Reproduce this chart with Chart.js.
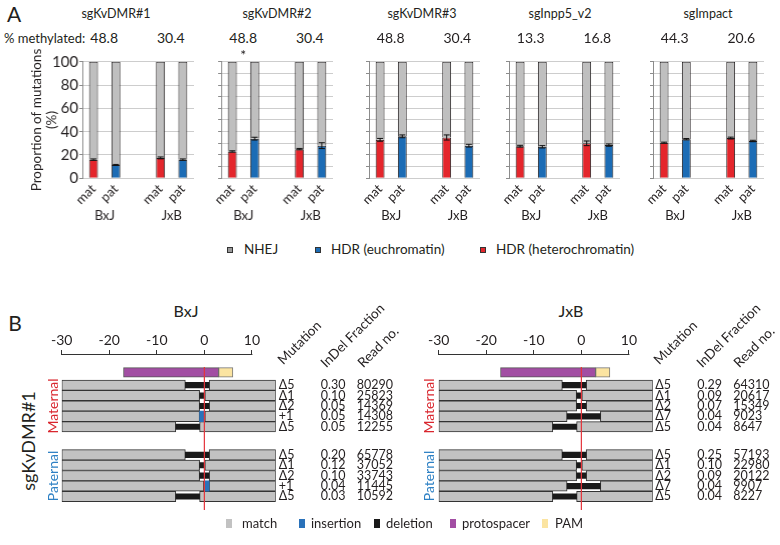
<!DOCTYPE html>
<html>
<head>
<meta charset="utf-8">
<script src="https://cdn.jsdelivr.net/npm/chart.js@4.4.0/dist/chart.umd.min.js"></script>
<style>
  body { margin: 0; background: #fff; }
  #page { position: relative; width: 780px; height: 545px; overflow: hidden; color: #231f20;
          font-family: Lato, 'Open Sans', sans-serif; }
  #page canvas { position: absolute; }
  .t { position: absolute; white-space: nowrap; line-height: 1; }
  .sq { position: absolute; box-sizing: border-box; }
</style>
</head>
<body>
<div id="page"></div>
<script>
// ---- Panel A data: HDR share (%) for mat, pat (BxJ), gap, mat, pat (JxB)
const guides = ['sgKvDMR#1', 'sgKvDMR#2', 'sgKvDMR#3', 'sgInpp5_v2', 'sgImpact'];
const methylBxJ = ['48.8', '48.8', '48.8', '13.3', '44.3'];
const methylJxB = ['30.4', '30.4', '30.4', '16.8', '20.6'];
const alleles = ['mat', 'pat', '', 'mat', 'pat'];
const crosses = ['BxJ', 'JxB'];
const hdr = [
  [16, 11.5, null, 17.5, 16],
  [23, 34, null, 25, 28],
  [33, 36, null, 35, 28],
  [27.5, 27, null, 30, 28.5],
  [30.5, 33.5, null, 34.5, 32]
];
const hdrErr = [
  [0.6, 0.4, null, 0.8, 0.6],
  [0.6, 1.2, null, 0.6, 2.5],
  [1.2, 1.2, null, 2.2, 1.2],
  [0.8, 1.0, null, 2.0, 1.0],
  [0.5, 0.6, null, 0.8, 0.6]
];

// ---- Panel B data: sgKvDMR#1 amplicon reads (position relative to cut site)
const readSpan = [-30, 15];
const protospacer = [-17, 3];
const pam = [3, 6];
const cutSite = 0;
const bxjMatMut = ['Δ5', 'Δ1', 'Δ2', '+1', 'Δ5'];
const bxjMatFrac = ['0.30', '0.10', '0.05', '0.05', '0.05'];
const bxjMatReads = ['80290', '25823', '14369', '14308', '12255'];
const bxjMatEdit = [[-4, 1], [-1, 0], [-1, 1], [-1, 0], [-6, -1]];
const bxjPatMut = ['Δ5', 'Δ1', 'Δ2', '+1', 'Δ5'];
const bxjPatFrac = ['0.20', '0.12', '0.10', '0.04', '0.03'];
const bxjPatReads = ['65778', '37052', '33743', '11445', '10592'];
const bxjPatEdit = [[-4, 1], [-1, 0], [-1, 1], [0, 1], [-6, -1]];
const jxbMatMut = ['Δ5', 'Δ1', 'Δ2', 'Δ7', 'Δ5'];
const jxbMatFrac = ['0.29', '0.09', '0.07', '0.04', '0.04'];
const jxbMatReads = ['64310', '20617', '15349', '9023', '8647'];
const jxbMatEdit = [[-4, 1], [-1, 0], [-1, 1], [-3, 4], [-6, -1]];
const jxbPatMut = ['Δ5', 'Δ1', 'Δ2', 'Δ7', 'Δ5'];
const jxbPatFrac = ['0.25', '0.10', '0.09', '0.04', '0.04'];
const jxbPatReads = ['57193', '22980', '20122', '9907', '8227'];
const jxbPatEdit = [[-4, 1], [-1, 0], [-1, 1], [-3, 4], [-6, -1]];

const RED = '#e4262c', BLUE = '#1c6cb5', GREY = '#bfbfbf', INK = '#231f20';
const PURPLE = '#a24ea3', YELLOW = '#fbe4a1';
Chart.defaults.font.family = "Lato, 'Open Sans', sans-serif";
Chart.defaults.color = INK;

const page = document.getElementById('page');
function addText(txt, x, y, size, css) {
  const d = document.createElement('div');
  d.className = 't';
  d.textContent = txt;
  d.style.left = x + 'px';
  d.style.top = y + 'px';
  d.style.fontSize = size + 'px';
  Object.assign(d.style, css || {});
  page.appendChild(d);
  return d;
}
const centered = { transform: 'translate(-50%, -50%)' };
const midLeft = { transform: 'translate(0, -50%)' };
function addCanvas(left, top, w, h) {
  const c = document.createElement('canvas');
  c.width = w; c.height = h;
  c.style.left = left + 'px'; c.style.top = top + 'px';
  c.style.width = w + 'px'; c.style.height = h + 'px';
  page.appendChild(c);
  return c;
}

// error bars on the HDR segment
const errorBars = {
  id: 'errorBars',
  afterDatasetsDraw(chart, args, opts) {
    const meta = chart.getDatasetMeta(0);
    const ys = chart.scales.y;
    const vals = chart.data.datasets[0].data;
    const ctx = chart.ctx;
    ctx.save();
    ctx.strokeStyle = '#111';
    ctx.lineWidth = 1;
    meta.data.forEach((bar, j) => {
      if (vals[j] == null) return;
      const top = ys.getPixelForValue(vals[j] + opts.errors[j]);
      const bot = ys.getPixelForValue(vals[j] - opts.errors[j]);
      ctx.beginPath();
      ctx.moveTo(bar.x, top); ctx.lineTo(bar.x, bot);
      ctx.moveTo(bar.x - 3, top); ctx.lineTo(bar.x + 3, top);
      ctx.moveTo(bar.x - 3, bot); ctx.lineTo(bar.x + 3, bot);
      ctx.stroke();
    });
    ctx.restore();
  }
};

// ---- Panel A
const axisX = [82, 221, 368.5, 508.5, 652.5];
const plotW = 111.5, aTop = 48, aH = 190;
const titleX = [116, 277, 422, 560, 708];

addText('A', 14, 13, 21, centered);
addText('% methylated:', 4, 38, 13, midLeft);

guides.forEach((g, i) => {
  const first = i === 0;
  const yW = first ? 62 : 4, padL = first ? 0 : 14;
  const left = axisX[i] - yW - padL;
  const canvas = addCanvas(left, aTop, yW + padL + plotW + 8, aH);
  const chart = new Chart(canvas, {
    type: 'bar',
    data: {
      labels: alleles,
      datasets: [
        { label: 'HDR', data: hdr[i], backgroundColor: alleles.map(a => a === 'mat' ? RED : BLUE),
          borderColor: INK, borderWidth: 1, barPercentage: 0.4, categoryPercentage: 1 },
        { label: 'NHEJ', data: hdr[i].map(v => v == null ? null : 100 - v), backgroundColor: GREY,
          borderColor: INK, borderWidth: 1, barPercentage: 0.4, categoryPercentage: 1 }
      ]
    },
    options: {
      animation: false, responsive: false, events: [],
      layout: { padding: { top: 13.7, bottom: 7.7, left: padL, right: 8 } },
      plugins: { legend: { display: false }, tooltip: { enabled: false }, errorBars: { errors: hdrErr[i] } },
      scales: {
        x: {
          stacked: true, grid: { display: false, drawTicks: false }, border: { display: false },
          ticks: { minRotation: 45, maxRotation: 45, padding: 3, font: { size: 13 }, autoSkip: false },
          afterFit: s => { s.height = 26; }
        },
        x2: {
          type: 'linear', position: 'bottom', weight: 1, min: -0.5, max: 4.5, offset: false,
          grid: { display: false, drawTicks: false }, border: { display: false },
          afterBuildTicks: s => { s.ticks = [{ value: 0.5 }, { value: 3.5 }]; },
          ticks: { callback: v => v < 2 ? crosses[0] : crosses[1], padding: 4, font: { size: 13 } },
          afterFit: s => { s.height = 26; }
        },
        y: {
          stacked: true, min: 0, max: 100,
          ticks: { stepSize: 10, display: first, padding: 1, font: { size: 15 },
                   callback: v => v % 20 === 0 ? v : '' },
          grid: { color: '#cdcdcd', tickColor: '#8c8c8c', tickLength: 3 },
          border: { color: '#8c8c8c' },
          title: { display: first, text: ['Proportion of mutations', '(%)'],
                   font: { size: 13.5, lineHeight: 1.05 }, padding: { top: 10, bottom: 0 } },
          afterFit: s => { s.width = yW; }
        }
      }
    },
    plugins: [errorBars]
  });
  addText(g, titleX[i], 14, 12.5, centered);
  const x2 = chart.scales.x2;
  addText(methylBxJ[i], left + x2.getPixelForValue(0.5), 38, 14, centered);
  addText(methylJxB[i], left + x2.getPixelForValue(3.5), 38, 14, centered);
  if (i === 1) addText('*', left + x2.getPixelForValue(0.5), 55, 14, centered);
});

// legends: square (w x h) at sx, label at tx
function legendItem(sx, tx, y, w, h, color, border, label, size) {
  const s = document.createElement('div');
  s.className = 'sq';
  s.style.left = sx + 'px'; s.style.top = (y - h / 2) + 'px';
  s.style.width = w + 'px'; s.style.height = h + 'px';
  s.style.background = color;
  if (border) s.style.border = '1px solid ' + border;
  page.appendChild(s);
  addText(label, tx, y, size, midLeft);
}
legendItem(227, 244, 250, 6, 6, '#9a9a9a', '#333', 'NHEJ', 13.5);
legendItem(315, 331, 250, 6, 6, BLUE, '#333', 'HDR (euchromatin)', 13.5);
legendItem(480, 496, 250, 6, 6, RED, '#333', 'HDR (heterochromatin)', 13.5);

// ---- Panel B
const matRows = [0, 1, 2, 3, 4];
const patRows = [6.7, 7.7, 8.7, 9.7, 10.7];
const protoRow = -1.22;
const rowPx = 10.4;

const axisLine = {
  id: 'axisLine',
  afterDraw(chart, args, opts) {
    const xs = chart.scales.x, ctx = chart.ctx, y = chart.chartArea.top - 0.5;
    ctx.save();
    ctx.strokeStyle = '#333';
    ctx.lineWidth = 1;
    ctx.beginPath();
    ctx.moveTo(xs.getPixelForValue(opts.from) - 0.5, y);
    ctx.lineTo(xs.getPixelForValue(opts.to) + 0.5, y);
    ctx.stroke();
    ctx.restore();
  }
};

function readPanel(cross, canvasLeft, groups, titleCx) {
  const top = 330, h = 185, w = 245;
  const canvas = addCanvas(canvasLeft, top, w, h);
  const match = [], del = [], ins = [];
  groups.forEach(gr => {
    gr.rows.forEach((r, k) => {
      const [a, b] = gr.edit[k];
      match.push({ x: [readSpan[0], a], y: r }, { x: [b, readSpan[1]], y: r });
      if (gr.mut[k][0] === '+') ins.push({ x: [a, b], y: r });
      else del.push({ x: [a, b], y: r });
    });
  });
  const chart = new Chart(canvas, {
    type: 'bar',
    data: {
      datasets: [
        { type: 'line', label: 'cut', data: [{ x: cutSite, y: -1.75 }, { x: cutSite, y: 12 }],
          borderColor: '#e5333b', borderWidth: 1.2, pointRadius: 0, order: 0 },
        { label: 'deletion', data: del, backgroundColor: '#1a1a1a', barThickness: 5.5, grouped: false, order: 1 },
        { label: 'insertion', data: ins, backgroundColor: '#2a72ba', barThickness: rowPx, grouped: false, order: 2 },
        { label: 'PAM', data: [{ x: pam, y: protoRow }], backgroundColor: YELLOW, borderColor: '#777',
          borderWidth: 1, borderSkipped: false, barThickness: 9.6, grouped: false, order: 3 },
        { label: 'protospacer', data: [{ x: protospacer, y: protoRow }], backgroundColor: PURPLE, borderColor: '#555',
          borderWidth: 1, borderSkipped: false, barThickness: 9.6, grouped: false, order: 4 },
        { label: 'match', data: match, backgroundColor: '#c2c2c2', borderColor: '#333',
          borderWidth: 1, borderSkipped: false, barThickness: rowPx, grouped: false, order: 5 }
      ]
    },
    options: {
      indexAxis: 'y', animation: false, responsive: false, events: [],
      layout: { padding: { top: 1, bottom: 5, left: 21.7, right: 9.3 } },
      plugins: { legend: { display: false }, tooltip: { enabled: false }, axisLine: { from: -30, to: 10 } },
      scales: {
        x: {
          type: 'linear', position: 'top', min: readSpan[0], max: readSpan[1], offset: false,
          ticks: { stepSize: 10, includeBounds: false, padding: 1, font: { size: 14 } },
          grid: { drawOnChartArea: false, tickLength: 5, color: '#333' },
          border: { display: false },
          afterFit: s => { s.height = 24; }
        },
        y: { type: 'linear', reverse: true, min: -2.9, max: 12, offset: false, display: false }
      }
    },
    plugins: [axisLine]
  });
  const ca = chart.chartArea, ys = chart.scales.y;
  const right = canvasLeft + ca.right, leftEdge = canvasLeft + ca.left;
  addText(cross, titleCx, 311, 16, centered);
  const rot = { transformOrigin: '0 100%', transform: 'translate(0, -100%) rotate(-45deg)' };
  addText('Mutation', right + 9, 367, 13.5, rot);
  addText('InDel Fraction', right + 52, 370, 13.5, rot);
  addText('Read no.', right + 89, 370, 13.5, rot);
  groups.forEach(gr => {
    gr.rows.forEach((r, k) => {
      const y = top + ys.getPixelForValue(r);
      addText(gr.mut[k], right + 3, y, 12.5, midLeft);
      addText(gr.frac[k], right + 45, y, 12.5, midLeft);
      addText(gr.reads[k], right + 81, y, 12.5, midLeft);
    });
    const mid = top + ys.getPixelForValue((gr.rows[0] + gr.rows[4]) / 2);
    addText(gr.name, leftEdge - 9, mid, 14,
      { transform: 'translate(-50%, -50%) rotate(-90deg)', color: gr.color });
  });
}

addText('B', 15, 322, 21, centered);
addText('sgKvDMR#1', 28, 441, 18, { transform: 'translate(-50%, -50%) rotate(-90deg)' });

readPanel('BxJ', 40, [
  { name: 'Maternal', color: '#d9262e', rows: matRows, mut: bxjMatMut, frac: bxjMatFrac, reads: bxjMatReads, edit: bxjMatEdit },
  { name: 'Paternal', color: '#2d80c4', rows: patRows, mut: bxjPatMut, frac: bxjPatFrac, reads: bxjPatReads, edit: bxjPatEdit }
], 186);
readPanel('JxB', 416.6, [
  { name: 'Maternal', color: '#d9262e', rows: matRows, mut: jxbMatMut, frac: jxbMatFrac, reads: jxbMatReads, edit: jxbMatEdit },
  { name: 'Paternal', color: '#2d80c4', rows: patRows, mut: jxbPatMut, frac: jxbPatFrac, reads: jxbPatReads, edit: jxbPatEdit }
], 571);

// Panel B legend
legendItem(226, 242, 523, 6, 9, '#c2c2c2', null, 'match', 13);
legendItem(299, 311, 523, 6, 9, '#2a72ba', null, 'insertion', 13);
legendItem(374, 386, 523, 6, 9, '#1a1a1a', null, 'deletion', 13);
legendItem(450, 462, 523, 6, 9, PURPLE, null, 'protospacer', 13);
legendItem(542, 555, 523, 6, 9, YELLOW, null, 'PAM', 13);
</script>
</body>
</html>
